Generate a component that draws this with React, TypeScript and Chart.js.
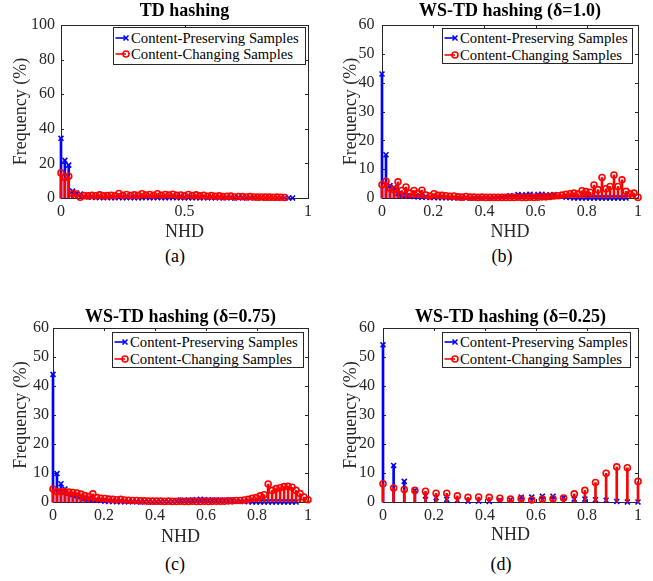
import React, { useEffect, useRef } from "react";
import { Chart, registerables } from "chart.js";

Chart.register(...registerables);

// ---------- data ----------
// Hamming-distance bins (normalised by the hash length to give NHD)
const HAMMING_64 = [
  0, 1, 2, 3, 4, 5, 6, 7, 8, 9, 10, 11, 12, 13, 14, 15, 16, 17, 18, 19, 20, 21,
  22, 23, 24, 25, 26, 27, 28, 29, 30, 31, 32, 33, 34, 35, 36, 37, 38, 39, 40, 41,
  42, 43, 44, 45, 46, 47, 48, 49, 50, 51, 52, 53, 54, 55, 56, 57, 58, 59, 60, 61,
  62, 63, 64,
];
const HASH_LEN_64 = 64;
const HAMMING_24 = [
  0, 1, 2, 3, 4, 5, 6, 7, 8, 9, 10, 11, 12, 13, 14, 15, 16, 17, 18, 19, 20, 21,
  22, 23, 24,
];
const HASH_LEN_24 = 24;

const SERIES_LABELS = ["Content-Preserving Samples", "Content-Changing Samples"];
const TITLES = [
  "TD hashing",
  "WS-TD hashing (δ=1.0)",
  "WS-TD hashing (δ=0.75)",
  "WS-TD hashing (δ=0.25)",
];
const CAPTIONS = ["(a)", "(b)", "(c)", "(d)"];
const X_LABEL = "NHD";
const Y_LABEL = "Frequency (%)";

const X_TICKS_HALF = [0, 0.5, 1];
const X_TICKS_FIFTH = [0, 0.2, 0.4, 0.6, 0.8, 1];
const Y_TICKS_100 = [0, 20, 40, 60, 80, 100];
const Y_TICKS_60 = [0, 10, 20, 30, 40, 50, 60];

// (a) TD hashing
const TD_PRESERVING = [
  34.5, 21.8, 19.0, 4.0, 2.9, 2.3, 1.0, 0.6, 0.4, 0.3,
  0.3, 0.2, 0.3, 0.2, 0.2, 0.3, 0.2, 0.2, 0.3, 0.2,
  0.2, 0.2, 0.3, 0.2, 0.2, 0.3, 0.2, 0.2, 0.2, 0.3,
  0.2, 0.2, 0.2, 0.1, 0.2, 0.2, 0.1, 0.1, 0.2, 0.1,
  0.1, 0.1, 0.1, 0.1, 0.1, 0.1, 0.1, 0.1, 0.1, 0.1,
  0.1, 0.1, 0.1, 0.0, 0.1, 0.0, 0.0, 0.0, 0.0, 0.0,
  0.0,
];
const TD_CHANGING = [
  14.5, 11.8, 12.6, 2.5, 2.3, 0.4, 1.4, 1.2, 1.5, 1.3,
  1.8, 1.2, 1.4, 1.6, 1.3, 2.6, 1.5, 2.0, 1.4, 1.8,
  1.5, 2.5, 1.7, 2.0, 1.6, 2.5, 1.6, 2.0, 1.7, 2.2,
  1.5, 1.7, 1.2, 2.0, 1.4, 1.8, 1.2, 1.6, 1.0, 1.4,
  1.0, 1.2, 0.8, 1.0, 1.1, 0.6, 0.9, 0.8, 0.6, 0.8,
  0.6, 0.5, 0.6, 0.5, 0.5, 0.4, 0.5, 0.4, 0.3,
];

// (b) WS-TD hashing, delta = 1.0
const WS10_PRESERVING = [
  43.0, 15.0, 4.3, 3.6, 1.6, 1.0, 0.8, 0.6, 0.5, 0.4,
  0.3, 0.3, 0.2, 0.2, 0.1, 0.1, 0.1, 0.1, 0.0, 0.1,
  0.0, 0.1, 0.0, 0.0, 0.1, 0.0, 0.1, 0.0, 0.1, 0.2,
  0.3, 0.5, 0.8, 0.6, 1.2, 0.9, 1.1, 1.3, 0.8, 1.2,
  1.3, 0.9, 1.1, 1.2, 0.7, 0.5, 0.3, 0.2, 0.0, 0.0,
  0.0, 0.0, 0.0, 0.0, 0.0, 0.0, 0.0, 0.0, 0.0, 0.0,
  0.0, 0.0,
];
const WS10_CHANGING = [
  4.6, 5.8, 3.4, 2.9, 5.6, 2.6, 3.8, 1.7, 2.6, 1.6,
  2.7, 1.0, 0.7, 1.5, 0.9, 0.9, 0.8, 0.6, 0.7, 0.4,
  0.3, 0.5, 0.3, 0.3, 0.2, 0.3, 0.2, 0.2, 0.2, 0.2,
  0.2, 0.2, 0.2, 0.2, 0.3, 0.2, 0.2, 0.3, 0.2, 0.3,
  0.4, 0.4, 0.5, 0.7, 0.8, 1.0, 1.3, 1.5, 1.7, 1.4,
  2.5, 2.2, 2.0, 4.5, 2.9, 7.1, 3.2, 4.0, 8.0, 4.0,
  6.3, 2.3, 1.5, 1.7, 0.2,
];

// (c) WS-TD hashing, delta = 0.75
const WS075_PRESERVING = [
  44.0, 9.8, 6.3, 4.5, 3.0, 2.6, 2.2, 1.8, 1.2, 1.0,
  0.8, 0.6, 0.5, 0.3, 0.2, 0.2, 0.1, 0.1, 0.1, 0.1,
  0.1, 0.1, 0.0, 0.1, 0.1, 0.0, 0.1, 0.1, 0.1, 0.1,
  0.2, 0.4, 0.6, 0.5, 0.7, 0.6, 0.8, 0.9, 0.7, 0.8,
  0.6, 0.7, 0.6, 0.6, 0.5, 0.6, 0.4, 0.3, 0.2, 0.1,
  0.0, 0.0, 0.0, 0.0, 0.0, 0.0, 0.0, 0.0, 0.0, 0.0,
  0.0, 0.0,
];
const WS075_CHANGING = [
  4.5, 3.5, 3.5, 3.5, 3.4, 3.3, 3.1, 2.7, 2.2, 1.9,
  2.8, 1.5, 1.3, 1.2, 1.0, 0.9, 0.8, 0.9, 0.7, 0.6,
  0.5, 0.5, 0.4, 0.4, 0.3, 0.3, 0.3, 0.3, 0.2, 0.3,
  0.2, 0.2, 0.3, 0.2, 0.2, 0.3, 0.2, 0.2, 0.3, 0.2,
  0.3, 0.3, 0.3, 0.3, 0.4, 0.4, 0.5, 0.5, 0.7, 0.9,
  1.3, 1.5, 2.1, 2.5, 6.2, 4.0, 4.6, 4.9, 5.3, 5.4,
  5.1, 4.0, 2.9, 1.7, 0.8,
];

// (d) WS-TD hashing, delta = 0.25
const WS025_PRESERVING = [
  54.2, 12.6, 7.1, 4.0, 2.1, 1.5, 0.9, 0.6, 0.3, 0.3,
  0.2, 0.6, 0.8, 1.7, 1.7, 2.0, 2.0, 1.5, 1.0, 1.0,
  0.8, 0.6, 0.2, 0.0, 0.0,
];
const WS025_CHANGING = [
  6.3, 4.8, 4.3, 4.0, 3.7, 3.0, 3.0, 2.1, 1.6, 1.7,
  1.6, 1.3, 1.0, 1.1, 0.7, 1.0, 1.1, 1.4, 2.8, 4.0,
  6.7, 9.9, 12.1, 11.8, 7.1,
];

// ---------- styles ----------
const FONT = '"Liberation Serif", "Times New Roman", Times, serif';
const AXIS_COLOR = "#262626";
const BLUE = "#0000ff";
const RED = "#ff0000";

type LegendSpec = { left: number; top: number; width: number; height: number; rows: number[] };
type PanelSpec = {
  left: number;
  top: number;
  width: number;
  height: number;
  title: string;
  caption: string;
  captionX: number;
  captionY: number;
  bins: number[];
  hashLen: number;
  preserving: number[];
  changing: number[];
  xTicks: number[];
  yTicks: number[];
  yMax: number;
  yAxisWidth: number;
  yTickPad: number;
  yTitlePad: number;
  titlePadTop: number;
  titlePadBottom: number;
  xTitlePadBottom: number;
  padRight: number;
  legend: LegendSpec;
};

const PANELS: PanelSpec[] = [
  {
    left: 0, top: 0, width: 326, height: 244,
    title: TITLES[0], caption: CAPTIONS[0], captionX: 175, captionY: 256,
    bins: HAMMING_64, hashLen: HASH_LEN_64,
    preserving: TD_PRESERVING, changing: TD_CHANGING,
    xTicks: X_TICKS_HALF, yTicks: Y_TICKS_100, yMax: 100,
    yAxisWidth: 61, yTickPad: 6, yTitlePad: 10.9,
    titlePadTop: 0.7, titlePadBottom: 2.7, xTitlePadBottom: 0.9, padRight: 18,
    legend: { left: 113, top: 27, width: 193, height: 38, rows: [11.3, 27.3] },
  },
  {
    left: 326, top: 0, width: 327, height: 244,
    title: TITLES[1], caption: CAPTIONS[1], captionX: 502, captionY: 256,
    bins: HAMMING_64, hashLen: HASH_LEN_64,
    preserving: WS10_PRESERVING, changing: WS10_CHANGING,
    xTicks: X_TICKS_FIFTH, yTicks: Y_TICKS_60, yMax: 60,
    yAxisWidth: 56, yTickPad: 7.5, yTitlePad: 14.5,
    titlePadTop: 0.7, titlePadBottom: 2.7, xTitlePadBottom: 0.9, padRight: 15,
    legend: { left: 442, top: 28, width: 191, height: 36, rows: [10.3, 27] },
  },
  {
    left: 0, top: 290, width: 326, height: 258,
    title: TITLES[2], caption: CAPTIONS[2], captionX: 175, captionY: 564,
    bins: HAMMING_64, hashLen: HASH_LEN_64,
    preserving: WS075_PRESERVING, changing: WS075_CHANGING,
    xTicks: X_TICKS_FIFTH, yTicks: Y_TICKS_60, yMax: 60,
    yAxisWidth: 53, yTickPad: 4, yTitlePad: 10.9,
    titlePadTop: 16.4, titlePadBottom: 0, xTitlePadBottom: 0, padRight: 18,
    legend: { left: 112, top: 332, width: 192, height: 36, rows: [10, 27.4] },
  },
  {
    left: 326, top: 290, width: 327, height: 258,
    title: TITLES[3], caption: CAPTIONS[3], captionX: 501, captionY: 564,
    bins: HAMMING_24, hashLen: HASH_LEN_24,
    preserving: WS025_PRESERVING, changing: WS025_CHANGING,
    xTicks: X_TICKS_FIFTH, yTicks: Y_TICKS_60, yMax: 60,
    yAxisWidth: 57, yTickPad: 8, yTitlePad: 14.5,
    titlePadTop: 16.4, titlePadBottom: 0, xTitlePadBottom: 2.2, padRight: 15,
    legend: { left: 442, top: 332, width: 189, height: 36, rows: [10, 27.4] },
  },
];

// MATLAB-like box with inward tick marks on all four sides
const boxPlugin = {
  id: "matlabBox",
  beforeDatasetsDraw(chart: any) {
    const { ctx, chartArea } = chart;
    const { left, top, right, bottom } = chartArea;
    const xs = chart.scales.x;
    const ys = chart.scales.y;
    const L = 3;
    ctx.save();
    ctx.strokeStyle = AXIS_COLOR;
    ctx.lineWidth = 1;
    ctx.strokeRect(Math.round(left) + 0.5, Math.round(top) + 0.5, Math.round(right - left), Math.round(bottom - top));
    ctx.beginPath();
    xs.ticks.forEach((t: any) => {
      const px = Math.round(xs.getPixelForValue(t.value)) + 0.5;
      ctx.moveTo(px, bottom);
      ctx.lineTo(px, bottom - L);
      ctx.moveTo(px, top);
      ctx.lineTo(px, top + L);
    });
    ys.ticks.forEach((t: any) => {
      const py = Math.round(ys.getPixelForValue(t.value)) + 0.5;
      ctx.moveTo(left, py);
      ctx.lineTo(left + L, py);
      ctx.moveTo(right, py);
      ctx.lineTo(right - L, py);
    });
    ctx.stroke();
    ctx.restore();
  },
};

function toPoints(bins: number[], hashLen: number, values: number[]) {
  return values.map((v, i) => ({ x: bins[i] / hashLen, y: v }));
}

function Panel({ spec }: { spec: PanelSpec }) {
  const ref = useRef<HTMLCanvasElement | null>(null);

  useEffect(() => {
    if (!ref.current) return;
    const pres = toPoints(spec.bins, spec.hashLen, spec.preserving);
    const chg = toPoints(spec.bins, spec.hashLen, spec.changing);
    const tickFont = { family: FONT, size: 16 };
    const labelFont = { family: FONT, size: 18 };
    const chart = new Chart(ref.current, {
      type: "bar",
      data: {
        datasets: [
          {
            type: "bar",
            label: SERIES_LABELS[0],
            data: pres,
            backgroundColor: BLUE,
            barThickness: 2,
            grouped: false,
            order: 4,
            clip: false,
          } as any,
          {
            type: "bar",
            label: SERIES_LABELS[1],
            data: chg,
            backgroundColor: RED,
            barThickness: 2,
            grouped: false,
            order: 2,
            clip: false,
          } as any,
          {
            type: "line",
            label: SERIES_LABELS[0],
            data: pres,
            showLine: false,
            borderColor: BLUE,
            backgroundColor: BLUE,
            pointStyle: "crossRot",
            pointRadius: 3.5,
            pointBorderWidth: 1.6,
            order: 3,
            clip: false,
          } as any,
          {
            type: "line",
            label: SERIES_LABELS[1],
            data: chg,
            showLine: false,
            borderColor: RED,
            backgroundColor: "rgba(255,255,255,0)",
            pointStyle: "circle",
            pointRadius: 3,
            pointBorderWidth: 1.6,
            order: 1,
            clip: false,
          } as any,
        ],
      },
      options: {
        responsive: false,
        animation: false,
        events: [],
        layout: { padding: { left: 0, top: 0, right: spec.padRight, bottom: 0 } },
        plugins: {
          legend: { display: false },
          tooltip: { enabled: false },
          title: {
            display: true,
            text: spec.title,
            fullSize: false,
            color: "#000",
            font: { family: FONT, size: 18, weight: "bold", lineHeight: 1.2 },
            padding: { top: spec.titlePadTop, bottom: spec.titlePadBottom },
          },
        },
        scales: {
          x: {
            type: "linear",
            min: 0,
            max: 1,
            offset: false,
            grid: { display: false, drawTicks: false },
            border: { display: false },
            ticks: {
              autoSkip: false,
              maxRotation: 0,
              padding: 4.5,
              color: AXIS_COLOR,
              font: tickFont,
              format: { minimumFractionDigits: 0, maximumFractionDigits: 2 },
            },
            afterBuildTicks: (s: any) => {
              s.ticks = spec.xTicks.map((v) => ({ value: v }));
            },
            afterFit: (s: any) => {
              s.height = 46;
            },
            title: {
              display: true,
              text: X_LABEL,
              color: AXIS_COLOR,
              font: labelFont,
              padding: { top: 0, bottom: spec.xTitlePadBottom },
            },
          },
          y: {
            type: "linear",
            min: 0,
            max: spec.yMax,
            grid: { display: false, drawTicks: false },
            border: { display: false },
            ticks: {
              padding: spec.yTickPad,
              color: AXIS_COLOR,
              font: tickFont,
            },
            afterBuildTicks: (s: any) => {
              s.ticks = spec.yTicks.map((v) => ({ value: v }));
            },
            afterFit: (s: any) => {
              s.width = spec.yAxisWidth;
            },
            title: {
              display: true,
              text: Y_LABEL,
              color: AXIS_COLOR,
              font: labelFont,
              padding: { top: spec.yTitlePad, bottom: 0 },
            },
          },
        },
      } as any,
      plugins: [boxPlugin],
    });
    return () => chart.destroy();
  }, [spec]);

  return (
    <canvas
      ref={ref}
      width={spec.width}
      height={spec.height}
      style={{ position: "absolute", left: spec.left, top: spec.top, width: spec.width, height: spec.height }}
    />
  );
}

function LegendBox({ spec }: { spec: LegendSpec }) {
  const colors = [BLUE, RED];
  return (
    <div
      style={{
        position: "absolute",
        left: spec.left,
        top: spec.top,
        width: spec.width,
        height: spec.height,
        boxSizing: "border-box",
        border: `1px solid ${AXIS_COLOR}`,
        background: "#fff",
      }}
    >
      {SERIES_LABELS.map((label, i) => (
        <div
          key={label}
          style={{
            position: "absolute",
            left: 0,
            top: spec.rows[i] - 10,
            height: 18,
            display: "flex",
            alignItems: "center",
            whiteSpace: "nowrap",
          }}
        >
          <svg width={17} height={18} style={{ display: "block", flex: "none" }}>
            <line x1={1.5} y1={9} x2={12} y2={9} stroke={colors[i]} strokeWidth={1.6} />
            {i === 0 ? (
              <path d="M9.5 6.5 L14.5 11.5 M14.5 6.5 L9.5 11.5" stroke={BLUE} strokeWidth={1.6} fill="none" />
            ) : (
              <circle cx={12} cy={9} r={3} fill="none" stroke={RED} strokeWidth={1.6} />
            )}
          </svg>
          <span style={{ fontFamily: FONT, fontSize: 14.7, lineHeight: "18px", color: "#000" }}>{label}</span>
        </div>
      ))}
    </div>
  );
}

export default function App() {
  return (
    <div style={{ position: "absolute", left: 0, top: 0, width: 653, height: 581, background: "#fff", overflow: "hidden" }}>
      {PANELS.map((p) => (
        <React.Fragment key={p.caption}>
          <Panel spec={p} />
          <LegendBox spec={p.legend} />
          <div
            style={{
              position: "absolute",
              left: p.captionX - 30,
              top: p.captionY - 10,
              width: 60,
              height: 20,
              textAlign: "center",
              fontFamily: FONT,
              fontSize: 18,
              lineHeight: "20px",
              color: "#000",
            }}
          >
            {p.caption}
          </div>
        </React.Fragment>
      ))}
    </div>
  );
}
